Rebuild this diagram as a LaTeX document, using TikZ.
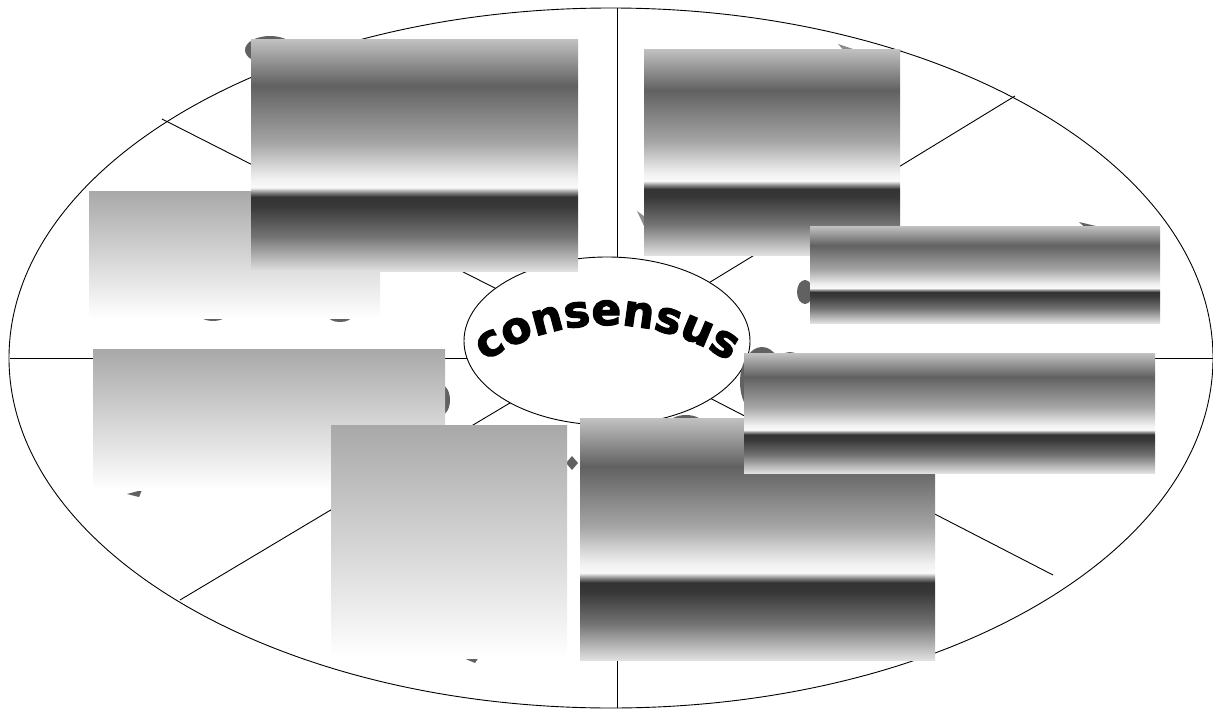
\documentclass[tikz,border=0pt]{standalone}
\usepackage{fontspec}
\newfontfamily\wafont{DejaVu Sans Bold}[FakeBold=2.5]
\usetikzlibrary{shapes.geometric,decorations.text}
\pgfdeclareverticalshading{metal}{100bp}{color(0bp)=(black!12); color(25bp)=(black!12); color(32.5bp)=(black!55); color(39bp)=(black!78); color(41bp)=(black!80); color(42bp)=(black!45); color(43bp)=(black!2); color(45bp)=(black!6); color(52.5bp)=(black!35); color(65bp)=(black!62); color(75bp)=(black!24); color(100bp)=(black!24)}
\pgfdeclareverticalshading{pale}{100bp}{color(0bp)=(white); color(25bp)=(white); color(75bp)=(black!34); color(100bp)=(black!34)}
\tikzset{
  blob/.style={fill=black!62},
  spoke/.style={draw=black, line width=0.9pt},
  metalbox/.style={shading=metal},
  palebox/.style={shading=pale}
}
\begin{document}
\begin{tikzpicture}[x=1pt,y=1pt]
\path[use as bounding box] (0,0) rectangle (1213,-712);
% outer ellipse
\draw[line width=0.9pt] (611,-358) ellipse [x radius=602pt, y radius=350pt];
% spokes
\coordinate (hub) at (607,-345);
\coordinate (top) at (617,-8);
\coordinate (bot) at (617,-708);
\coordinate (left) at (10,-358);
\coordinate (right) at (1213,-358);
\coordinate (ul) at (162,-119);
\coordinate (ur) at (1015,-96);
\coordinate (ll) at (180,-600);
\coordinate (lr) at (1053,-575);
\draw[spoke] (top) -- (bot);
\draw[spoke] (left) -- (right);
\draw[spoke] (ul) -- (hub);
\draw[spoke] (ur) -- (hub);
\draw[spoke] (ll) -- (hub);
\draw[spoke] (lr) -- (hub);
% inner ellipse
\node[ellipse, draw, line width=0.9pt, fill=white, minimum width=286pt, minimum height=168pt, inner sep=0pt] (inner) at (607,-341) {};
% arched title
\path[decorate, decoration={text along path, text align=center,
  text={|\wafont\fontsize{44}{44}\selectfont|consensus}}]
  (607,-547) ++(150:222pt) arc[start angle=150, end angle=30, radius=222pt];
% hidden shapes peeking out
\fill[blob] (270,-50) ellipse [x radius=25pt, y radius=14pt];
\fill[blob] (762,-382) ellipse [x radius=22pt, y radius=35pt];
\fill[blob] (790,-362) ellipse [x radius=12pt, y radius=10pt];
\fill[blob] (686,-425) ellipse [x radius=18pt, y radius=10pt];
\fill[blob] (566,-463) -- (572,-456) -- (578,-463) -- (572,-470) -- cycle;
\fill[blob] (440,-400) ellipse [x radius=10pt, y radius=16pt];
\fill[blob] (805,-292) ellipse [x radius=8pt, y radius=12pt];
\fill[blob] (213,-316) ellipse [x radius=12pt, y radius=5pt];
\fill[blob] (340,-316) ellipse [x radius=12pt, y radius=6pt];
\fill[blob] (127,-494) -- (142,-490) -- (139,-497) -- cycle;
\fill[blob] (461,-657) -- (479,-657) -- (475,-663) -- cycle;
\fill[black!45] (838,-44) -- (853,-49) -- (846,-53) -- cycle;
\fill[blob] (1079,-222) -- (1100,-227) -- (1090,-232) -- cycle;
\fill[black!45] (637,-211) -- (648,-219) -- (644,-226) -- cycle;
% boxes
\shade[palebox] (89,-191) rectangle (380,-318);
\shade[metalbox] (251,-39) rectangle (578,-271);
\shade[metalbox] (644,-49) rectangle (900,-255);
\shade[metalbox] (810,-226) rectangle (1160,-323);
\shade[palebox] (93,-349) rectangle (445,-490);
\shade[palebox] (331,-425) rectangle (567,-658);
\shade[metalbox] (580,-418) rectangle (935,-660);
\shade[metalbox] (744,-353) rectangle (1155,-473);
\end{tikzpicture}
\end{document}
